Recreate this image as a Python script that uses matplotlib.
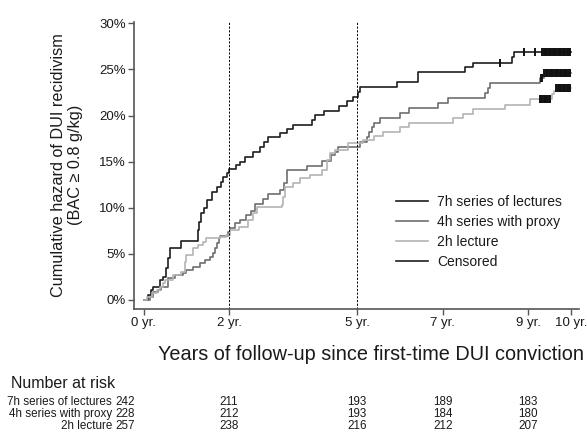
import numpy as np
import matplotlib
matplotlib.use("Agg")
import matplotlib.pyplot as plt
from matplotlib.lines import Line2D
from matplotlib.transforms import blended_transform_factory

plt.rcParams['font.family'] = ['Liberation Sans', 'DejaVu Sans']

# ---- data (years, cumulative hazard in %) ----
t_7h = [0, 0.10, 0.18, 0.22, 0.37, 0.45, 0.53, 0.57, 0.62, 0.88, 1.26, 1.30, 1.34, 1.40,
        1.475, 1.59, 1.725, 1.80, 1.865, 1.94, 2.0, 2.16, 2.255, 2.37, 2.57, 2.72, 2.825,
        2.90, 3.19, 3.35, 3.50, 3.93, 4.01, 4.21, 4.58, 4.75, 4.91, 5.01, 5.07, 5.925,
        6.43, 7.525, 7.70, 8.62, 8.66, 10.0]
h_7h = [0, 0.54, 1.08, 1.45, 2.17, 2.53, 3.43, 4.52, 5.60, 6.40, 7.59, 8.5, 9.47, 9.94,
        10.85, 11.75, 12.29, 12.83, 13.37, 13.74, 14.17, 14.64, 15.0, 15.54, 16.08, 16.63,
        17.17, 17.64, 18.08, 18.51, 18.98, 19.52, 20.07, 20.53, 21.04, 21.58, 22.05, 22.59,
        23.07, 23.61, 24.70, 25.24, 25.74, 26.32, 26.85, 26.85]

t_4h = [0, 0.14, 0.22, 0.33, 0.41, 0.57, 0.73, 0.92, 1.0, 1.15, 1.31, 1.43, 1.55, 1.62,
        1.68, 1.72, 1.76, 1.79, 1.97, 2.02, 2.14, 2.25, 2.40, 2.52, 2.60, 2.80, 2.90, 3.19,
        3.28, 3.35, 3.82, 4.17, 4.38, 4.48, 4.55, 5.07, 5.22, 5.28, 5.34, 5.38, 5.52, 5.99,
        6.22, 6.88, 7.12, 8.0, 8.05, 8.11, 9.28, 9.36, 10.0]
h_4h = [0, 0.36, 0.90, 1.08, 1.45, 2.35, 2.71, 2.89, 3.25, 3.61, 3.98, 4.34, 4.70, 5.06,
        5.60, 6.15, 6.69, 6.98, 7.41, 7.77, 8.3, 8.7, 9.2, 9.6, 10.4, 10.9, 11.5, 11.9,
        12.7, 14.1, 14.55, 15.1, 15.73, 16.1, 16.63, 17.17, 17.71, 18.26, 18.73, 19.23,
        19.77, 20.31, 20.86, 21.40, 21.94, 22.49, 23.03, 23.57, 24.04, 24.58, 24.58]

t_2h = [0, 0.08, 0.20, 0.30, 0.38, 0.45, 0.49, 0.69, 0.88, 0.96, 1.0, 1.15, 1.27, 1.39,
        1.47, 1.78, 1.93, 2.02, 2.22, 2.45, 2.57, 2.65, 3.23, 3.27, 3.31, 3.50, 3.66, 3.90,
        4.17, 4.29, 4.36, 4.48, 4.79, 5.14, 5.38, 5.61, 6.0, 6.20, 7.25, 7.48, 7.72, 8.46,
        9.05, 9.56, 9.60, 9.64, 10.0]
h_2h = [0, 0.36, 0.72, 1.08, 1.45, 1.81, 2.17, 2.71, 3.07, 4.16, 4.88, 5.60, 5.97, 6.33,
        6.69, 6.87, 7.05, 7.6, 7.95, 8.68, 9.40, 10.12, 10.30, 11.21, 12.29, 12.66, 13.20,
        13.56, 14.10, 15.18, 15.91, 16.27, 17.0, 17.35, 17.79, 18.26, 18.80, 19.23, 19.70,
        20.17, 20.68, 21.15, 21.8, 22.3, 22.7, 23.0, 23.0]

cens_7h = [8.34, 8.91, 9.17, 9.33, 9.36, 9.39, 9.42, 9.45, 9.48, 9.51, 9.54, 9.57, 9.60,
           9.63, 9.66, 9.69, 9.72, 9.75, 9.78, 9.81, 9.84, 9.87, 9.90, 9.93, 9.96, 9.98]
cens_4h = [9.29, 9.32, 9.38, 9.41, 9.44, 9.47, 9.50, 9.53, 9.56, 9.59, 9.62, 9.65, 9.68,
           9.71, 9.74, 9.77, 9.80, 9.83, 9.86, 9.89, 9.92, 9.95, 9.98]
cens_2h = [9.27, 9.30, 9.33, 9.36, 9.39, 9.42, 9.45, 9.48, 9.51, 9.66, 9.69, 9.72, 9.75,
           9.78, 9.81, 9.84, 9.87, 9.90, 9.93, 9.96, 9.98]

labels = ["7h series of lectures", "4h series with proxy", "2h lecture"]
colors = ["#1e1e1e", "#6e6e6e", "#b4b4b4"]

xticks = [0, 2, 5, 7, 9, 10]
xticklabels = ["0 yr.", "2 yr.", "5 yr.", "7 yr.", "9 yr.", "10 yr."]
yticks = [0, 5, 10, 15, 20, 25, 30]
yticklabels = ["0%", "5%", "10%", "15%", "20%", "25%", "30%"]
ref_lines = [2, 5]

risk_times = [0, 2, 5, 7, 9]
risk_7h = [242, 211, 193, 189, 183]
risk_4h = [228, 212, 193, 184, 180]
risk_2h = [257, 238, 216, 212, 207]

# ---- figure ----
W, H = 587, 433
fig = plt.figure(figsize=(W / 100, H / 100), dpi=100)
ax = fig.add_axes([134.3 / W, 1 - 309 / H, (579 - 134.3) / W, (309 - 22) / H])

series = [(t_7h, h_7h, cens_7h), (t_4h, h_4h, cens_4h), (t_2h, h_2h, cens_2h)]
for (t, h, c), lab, col in zip(series, labels, colors):
    ax.plot(t, h, drawstyle='steps-post', color=col, lw=1.2, label=lab)

for (t, h, c) in series:
    t_arr = np.asarray(t)
    h_arr = np.asarray(h)
    idx = np.searchsorted(t_arr, c, side='right') - 1
    ax.plot(c, h_arr[idx], linestyle='none', marker='|', ms=5.5, mew=1.4,
            color='#111111')

for xv in ref_lines:
    ax.axvline(xv, color='black', lw=0.7, ls=(0, (2.2, 1.6)))

ax.set_xlim(-0.22, 10.19)
ax.set_ylim(-0.98, 30.15)
ax.set_xticks(xticks)
ax.set_xticklabels(xticklabels)
ax.set_yticks(yticks)
ax.set_yticklabels(yticklabels)
for s in ['top', 'right']:
    ax.spines[s].set_visible(False)
for s in ['left', 'bottom']:
    ax.spines[s].set_color('#555555')
    ax.spines[s].set_linewidth(1.2)
ax.tick_params(direction='out', length=4, width=1, color='#555555', labelsize=9.5,
               labelcolor='#1a1a1a', pad=2)

handles = [Line2D([], [], color=c, lw=1.2) for c in colors] + \
          [Line2D([], [], color='#1e1e1e', lw=1.2)]
ax.legend(handles, labels + ["Censored"], loc='center left',
          bbox_to_anchor=(0.5885, 0.268), frameon=False, fontsize=10,
          borderpad=0, borderaxespad=0, handlelength=2.3, handletextpad=0.65,
          labelspacing=0.42, labelcolor='#1a1a1a')

fig.text(371 / W, 1 - 355 / H, "Years of follow-up since first-time DUI conviction",
         ha='center', va='center', fontsize=14.3, color='#1a1a1a')
fig.text(67 / W, 1 - 165 / H, "Cumulative hazard of DUI recidivism\n(BAC \u2265 0.8 g/kg)",
         ha='center', va='center', rotation=90, multialignment='center',
         fontsize=11.7, color='#1a1a1a', linespacing=1.1)

# ---- number at risk table ----
fig.text(115 / W, 1 - 383 / H, "Number at risk", ha='right', va='center',
         fontsize=11.5, color='#1a1a1a')
trans = blended_transform_factory(ax.transData, fig.transFigure)
row_y = [402, 414, 426]
for lab, vals, yy in zip(labels, [risk_7h, risk_4h, risk_2h], row_y):
    fig.text(112 / W, 1 - yy / H, lab, ha='right', va='center', fontsize=8.4,
             color='#1a1a1a')
    for i, (tt, v) in enumerate(zip(risk_times, vals)):
        xx = tt if i > 0 else tt - 0.44
        ax.text(xx, 1 - yy / H, str(v), transform=trans, ha='center', va='center',
                fontsize=8.4, color='#1a1a1a', clip_on=False)

fig.savefig("out.png", dpi=100)
